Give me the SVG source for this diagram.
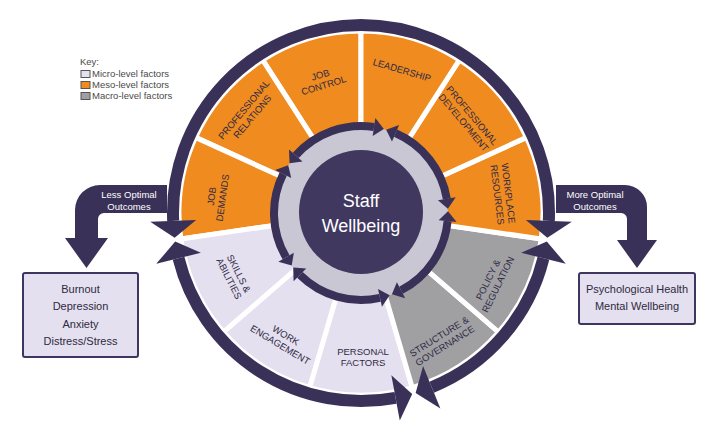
<svg xmlns="http://www.w3.org/2000/svg" xmlns:xlink="http://www.w3.org/1999/xlink" width="711" height="443" viewBox="0 0 711 443">
<style>
.seg{stroke:#fff;stroke-width:5;stroke-linejoin:round}
.meso{fill:#F08B1F}
.micro{fill:#E4E0EF}
.macro{fill:#A0A0A3}
.lbl{font-family:"Liberation Sans",Arial,sans-serif;font-size:9.5px;fill:#2F2A45;text-anchor:middle}
.dk{fill:#3A3158}
.arc{fill:none;stroke:#3A3158;stroke-width:12}
.iarc{fill:none;stroke:#3A3158;stroke-width:8}
.wt{font-family:"Liberation Sans",Arial,sans-serif;fill:#fff;text-anchor:middle}
.box{stroke:#3E3660;stroke-width:2;fill:#E4E0EF}
.bt{font-family:"Liberation Sans",Arial,sans-serif;font-size:11px;fill:#2E2A40;text-anchor:middle}
.kt{font-family:"Liberation Sans",Arial,sans-serif;font-size:9.5px;fill:#4A4A4A}
.kb{stroke:#555;stroke-width:1}
</style>
<defs>
<path id="segshape" d="M76.76,22.54 L174.63,51.27 A182,182 0 0 0 174.63,-51.27 L76.76,-22.54 A80,80 0 0 1 76.76,22.54 Z"/>
<g id="innerArrow">
<path class="iarc" d="M86.07,-12.71 A87,87 0 0 0 35.94,-79.23"/>
<polygon class="dk" points="86.96,-2.73 94.97,-14.02 77.16,-11.39"/>
<polygon class="dk" points="26.60,-82.84 39.66,-87.43 32.22,-71.03"/>
</g>
</defs>

<g transform="translate(361,213)">
<g id="seg-job-control"><use xlink:href="#segshape" class="seg meso" transform="rotate(-106.364)"/>
<text class="lbl" transform="translate(-39,-133) rotate(-17)"><tspan x="0" y="-2.1">JOB</tspan><tspan x="0" y="8.9">CONTROL</tspan></text></g>
<g id="seg-professional-relations"><use xlink:href="#segshape" class="seg meso" transform="rotate(-139.091)"/>
<text class="lbl" transform="translate(-113,-100) rotate(-50)"><tspan x="0" y="-2.1">PROFESSIONAL</tspan><tspan x="0" y="8.9">RELATIONS</tspan></text></g>
<g id="seg-job-demands"><use xlink:href="#segshape" class="seg meso" transform="rotate(-171.818)"/>
<text class="lbl" transform="translate(-144,-16) rotate(-82)"><tspan x="0" y="-2.1">JOB</tspan><tspan x="0" y="8.9">DEMANDS</tspan></text></g>
<g id="seg-skills-abilities"><use xlink:href="#segshape" class="seg micro" transform="rotate(-204.545)"/>
<text class="lbl" transform="translate(-127,63) rotate(63)"><tspan x="0" y="-2.1">SKILLS &amp;</tspan><tspan x="0" y="8.9">ABILITIES</tspan></text></g>
<g id="seg-work-engagement"><use xlink:href="#segshape" class="seg micro" transform="rotate(-237.273)"/>
<text class="lbl" transform="translate(-78,127) rotate(31)"><tspan x="0" y="-2.1">WORK</tspan><tspan x="0" y="8.9">ENGAGEMENT</tspan></text></g>
<g id="seg-personal-factors"><use xlink:href="#segshape" class="seg micro" transform="rotate(-270)"/>
<text class="lbl" transform="translate(2,144)"><tspan x="0" y="-2.1">PERSONAL</tspan><tspan x="0" y="8.9">FACTORS</tspan></text></g>
<g id="seg-structure-governance"><use xlink:href="#segshape" class="seg macro" transform="rotate(-302.727)"/>
<text class="lbl" transform="translate(81,128) rotate(-32)"><tspan x="0" y="-2.1">STRUCTURE &amp;</tspan><tspan x="0" y="8.9">GOVERNANCE</tspan></text></g>
<g id="seg-policy-regulation"><use xlink:href="#segshape" class="seg macro" transform="rotate(-335.455)"/>
<text class="lbl" transform="translate(132,69) rotate(-64)"><tspan x="0" y="-2.1">POLICY &amp;</tspan><tspan x="0" y="8.9">REGULATION</tspan></text></g>
<g id="seg-workplace-resources"><use xlink:href="#segshape" class="seg meso" transform="rotate(-8.182)"/>
<text class="lbl" transform="translate(142,-19) rotate(83)"><tspan x="0" y="-2.1">WORKPLACE</tspan><tspan x="0" y="8.9">RESOURCES</tspan></text></g>
<g id="seg-professional-development"><use xlink:href="#segshape" class="seg meso" transform="rotate(-40.909)"/>
<text class="lbl" transform="translate(107,-94) rotate(50)"><tspan x="0" y="-2.1">PROFESSIONAL</tspan><tspan x="0" y="8.9">DEVELOPMENT</tspan></text></g>
<g id="seg-leadership"><use xlink:href="#segshape" class="seg meso" transform="rotate(-73.636)"/>
<text class="lbl" transform="translate(41,-143) rotate(16.5)"><tspan x="0" y="3.4">LEADERSHIP</tspan></text></g>

<g id="staff-wellbeing">
<circle cx="0" cy="0" r="87" fill="#C9C7D4"/>
<circle cx="0" cy="-1" r="62" fill="#41385F"/>
<text class="wt" font-size="18" x="0" y="-6">Staff</text>
<text class="wt" font-size="18" x="0" y="19">Wellbeing</text>
</g>

<g id="connectors">
<use xlink:href="#innerArrow" transform="rotate(-1)"/>
<use xlink:href="#innerArrow" transform="rotate(-73)"/>
<use xlink:href="#innerArrow" transform="rotate(-145)"/>
<use xlink:href="#innerArrow" transform="rotate(-217)"/>
<use xlink:href="#innerArrow" transform="rotate(-289)"/>
<path class="arc" d="M-187.83,7.87 A188,188 0 1 1 187.83,7.87"/>
<polygon class="dk" points="-186.35,24.86 -210.81,8.84 -164.85,6.91"/>
<polygon class="dk" points="186.35,24.86 210.81,8.84 164.85,6.91"/>
<path class="arc" d="M-182.46,45.32 A188,188 0 0 0 34.58,184.79"/>
<polygon class="dk" points="-185.81,28.60 -204.78,50.87 -160.13,39.78"/>
<polygon class="dk" points="51.19,180.90 38.81,207.40 30.35,162.19"/>
<path class="arc" d="M182.46,45.32 A188,188 0 0 1 70.73,174.19"/>
<polygon class="dk" points="185.81,28.60 204.78,50.87 160.13,39.78"/>
<polygon class="dk" points="54.65,179.88 79.38,195.50 62.08,152.88"/>
</g>
</g>

<g id="outcome-arrows">
<g id="less-optimal">
<path class="dk" d="M167,185 H100 A25,25 0 0 0 75,210 V238 H65 L86.5,268 L108,238 H98 V219 A6,6 0 0 1 104,213 H167 Z"/>
<text class="wt" font-size="9.5" x="129" y="198">Less Optimal</text>
<text class="wt" font-size="9.5" x="129" y="210">Outcomes</text>
</g>
<g id="more-optimal">
<path class="dk" d="M556,185 H625 A22,22 0 0 1 647,207 V240 H657 L637,268 L617,240 H627 V219 A6,6 0 0 0 621,213 H556 Z"/>
<text class="wt" font-size="9.5" x="595" y="198">More Optimal</text>
<text class="wt" font-size="9.5" x="595" y="210">Outcomes</text>
</g>
</g>

<g id="less-optimal-box">
<rect class="box" x="23" y="273" width="115" height="84" rx="2"/>
<text class="bt" x="80.5" y="292.5">Burnout</text>
<text class="bt" x="80.5" y="310">Depression</text>
<text class="bt" x="80.5" y="327.5">Anxiety</text>
<text class="bt" x="80.5" y="345">Distress/Stress</text>
</g>

<g id="more-optimal-box">
<rect class="box" x="579" y="273" width="116" height="51" rx="2"/>
<text class="bt" x="637" y="293">Psychological Health</text>
<text class="bt" x="637" y="310">Mental Wellbeing</text>
</g>

<g id="key">
<text class="kt" x="80" y="65">Key:</text>
<rect class="kb" x="81" y="70.5" width="9" height="7" fill="#E4E0EF"/>
<text class="kt" x="92" y="77.3">Micro-level factors</text>
<rect class="kb" x="81" y="81.5" width="9" height="7" fill="#F08B1F"/>
<text class="kt" x="92" y="88.3">Meso-level factors</text>
<rect class="kb" x="81" y="92.5" width="9" height="7" fill="#A0A0A3"/>
<text class="kt" x="92" y="99.3">Macro-level factors</text>
</g>
</svg>
